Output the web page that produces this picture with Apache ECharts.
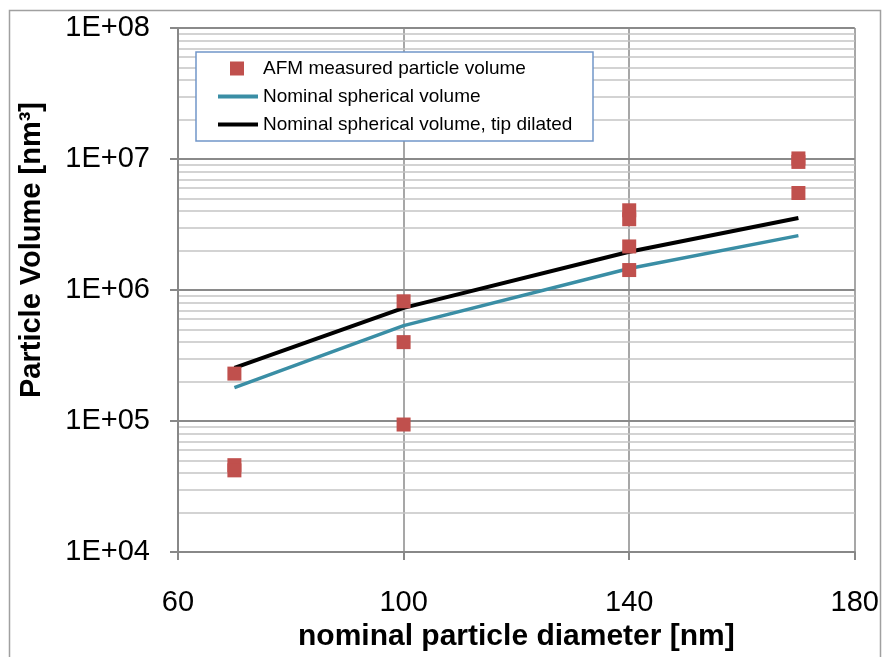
<!DOCTYPE html>
<html>
<head>
<meta charset="utf-8">
<script src="https://cdn.jsdelivr.net/npm/echarts@6/dist/echarts.min.js"></script>
<style>html,body{margin:0;padding:0;background:#fff;}#c{width:882px;height:657px;}</style>
</head>
<body>
<div id="c"></div>
<script>
// ---- data ----
var xTicks = [60, 100, 140, 180];
var yTickLabels = {4: '1E+04', 5: '1E+05', 6: '1E+06', 7: '1E+07', 8: '1E+08'};
// AFM measured particle volume [diameter, volume]
var afmX = [70, 70, 70, 100, 100, 100, 140, 140, 140, 140, 170, 170, 170];
var afmY = [2.3e5, 4.6e4, 4.2e4, 8.2e5, 4.0e5, 9.4e4, 4.06e6, 3.47e6, 2.15e6, 1.42e6, 1.01e7, 9.5e6, 5.5e6];
// nominal curves
var nomX = [70, 100, 140, 170];
var nomSpherical = [1.8e5, 5.35e5, 1.46e6, 2.6e6];
var nomTipDilated = [2.54e5, 7.3e5, 1.96e6, 3.55e6];
// minor grid positions (2..9 per decade)
var minorGrid = [];
[1e4, 1e5, 1e6, 1e7].forEach(function (d) {
  [2, 3, 4, 5, 6, 7, 8, 9].forEach(function (m) { minorGrid.push(m * d); });
});

var FONT = 'Liberation Sans, Arial, sans-serif';
var chart = echarts.init(document.getElementById('c'), null, {renderer: 'canvas'});

function pairs(xs, ys) { return xs.map(function (x, i) { return [x, ys[i]]; }); }

chart.setOption({
  animation: false,
  backgroundColor: '#ffffff',
  graphic: [
    {type: 'rect', shape: {x: 9.5, y: 10.5, width: 871, height: 660}, style: {fill: 'none', stroke: '#a0a0a0', lineWidth: 1.5}, z: 0, silent: true},
    {type: 'rect', shape: {x: 196, y: 52, width: 397, height: 89}, style: {fill: '#ffffff', stroke: '#7196c9', lineWidth: 1.5}, z: 50, silent: true}
  ],
  grid: {left: 178, right: 25, top: 28, bottom: 102},
  xAxis: {
    type: 'value', min: 60, max: 180, interval: 40,
    name: 'nominal particle diameter [nm]', nameLocation: 'middle', nameGap: 70,
    nameTextStyle: {fontFamily: FONT, fontWeight: 'bold', fontSize: 30, color: '#000'},
    axisLine: {show: true, lineStyle: {color: '#888888', width: 2}},
    axisTick: {show: true, inside: false, length: 8, lineStyle: {color: '#888888', width: 2}},
    axisLabel: {fontFamily: FONT, fontSize: 29, color: '#000', margin: 36},
    splitLine: {show: true, lineStyle: {color: '#8a8a8a', width: 1.5}}
  },
  yAxis: {
    type: 'log', logBase: 10, min: 1e4, max: 1e8,
    name: 'Particle Volume [nm³]', nameLocation: 'middle', nameGap: 132, nameRotate: 90,
    nameTextStyle: {fontFamily: FONT, fontWeight: 'bold', fontSize: 29, color: '#000', padding: [0, 0, 0, 80]},
    axisLine: {show: true, lineStyle: {color: '#888888', width: 2}},
    axisTick: {show: true, inside: false, length: 8, lineStyle: {color: '#888888', width: 2}},
    axisLabel: {
      fontFamily: FONT, fontSize: 29, color: '#000', margin: 28,
      formatter: function (v) { return yTickLabels[Math.round(Math.log10(v))] || ''; }
    },
    splitLine: {show: true, lineStyle: {color: '#8a8a8a', width: 2}}
  },
  legend: [
    {
      data: ['AFM measured particle volume'], left: 230, top: 59, padding: 0,
      itemWidth: 14, itemHeight: 14, icon: 'rect', z: 60,
      textStyle: {fontFamily: FONT, fontSize: 19, color: '#000', padding: [0, 0, 0, 14]}
    },
    {
      data: ['Nominal spherical volume', 'Nominal spherical volume, tip dilated'],
      orient: 'vertical', left: 218, top: 87, padding: 0, itemGap: 9,
      itemWidth: 40, itemHeight: 4, icon: 'rect', z: 60,
      textStyle: {fontFamily: FONT, fontSize: 19, color: '#000'}
    }
  ],
  series: [
    {
      type: 'line', name: 'minor-grid', data: [], z: 0, silent: true,
      markLine: {
        z: 0, silent: true, symbol: ['none', 'none'], label: {show: false},
        lineStyle: {color: '#c4c4c4', width: 1.5, type: 'solid'},
        emphasis: {disabled: true},
        data: minorGrid.map(function (v) { return {yAxis: v}; })
      }
    },
    {
      type: 'line', name: 'Nominal spherical volume', data: pairs(nomX, nomSpherical),
      showSymbol: false, symbol: 'none', z: 3,
      lineStyle: {color: '#3a8ea5', width: 3.5}, itemStyle: {color: '#3a8ea5'}
    },
    {
      type: 'line', name: 'Nominal spherical volume, tip dilated', data: pairs(nomX, nomTipDilated),
      showSymbol: false, symbol: 'none', z: 3,
      lineStyle: {color: '#000000', width: 4}, itemStyle: {color: '#000000'}
    },
    {
      type: 'scatter', name: 'AFM measured particle volume', data: pairs(afmX, afmY),
      symbol: 'rect', symbolSize: 14, z: 4,
      itemStyle: {color: '#c0504d', opacity: 1}
    }
  ]
});
</script>
</body>
</html>
